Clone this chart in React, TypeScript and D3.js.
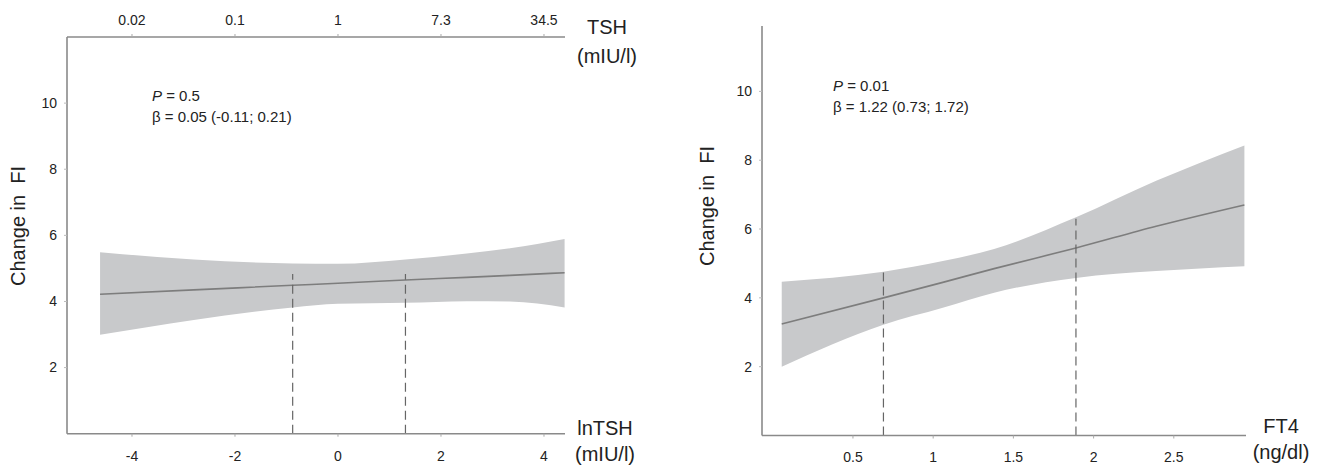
import React, { useEffect, useRef } from "react";
import * as d3 from "d3";

// left panel: lnTSH vs change in FI
const tshX = [-4.62, -2.8, -0.88, 0, 1.31, 2.5, 3.34, 4.4];
const tshFit = [4.22, 4.35, 4.49, 4.55, 4.65, 4.73, 4.79, 4.87];
const tshUpper = [5.49, 5.27, 5.15, 5.14, 5.27, 5.45, 5.61, 5.89];
const tshLower = [2.99, 3.44, 3.82, 3.93, 3.96, 4.01, 4.0, 3.82];
const tshRef = [-0.88, 1.31];
const tshRefTop = [4.83, 4.83];
const tshTicks = [-4, -2, 0, 2, 4];
const tshTopLabels = ["0.02", "0.1", "1", "7.3", "34.5"];

// right panel: FT4 vs change in FI
const ft4X = [0.056, 0.69, 1.06, 1.38, 1.89, 2.39, 2.94];
const ft4Fit = [3.24, 4.0, 4.45, 4.85, 5.45, 6.08, 6.7];
const ft4Upper = [4.47, 4.76, 5.07, 5.42, 6.34, 7.4, 8.43];
const ft4Lower = [2.0, 3.22, 3.71, 4.15, 4.58, 4.78, 4.92];
const ft4Ref = [0.69, 1.89];
const ft4RefTop = [4.76, 6.3];
const ft4Ticks = [0.5, 1, 1.5, 2, 2.5];

const fiTicks = [2, 4, 6, 8, 10];

const FONT = "'Liberation Sans', Arial, sans-serif";
const AXIS = "#8a8a8a";
const TEXT = "#222";

type Panel = {
  xs: number[];
  fit: number[];
  upper: number[];
  lower: number[];
  ref: number[];
  refTop: number[];
  xTicks: number[];
  xDomain: [number, number];
  xRange: [number, number];
  yDomain: [number, number];
  yRange: [number, number];
  topLabels?: string[];
  pText: string;
  betaText: string;
  annX: number;
  annY: number;
  yLabelPos: [number, number];
  xLabel: string[];
  xLabelPos: [number, number];
  topLabel?: string[];
  topLabelPos?: [number, number];
};

function drawPanel(svg: any, p: Panel) {
  const x = d3.scaleLinear().domain(p.xDomain).range(p.xRange);
  const y = d3.scaleLinear().domain(p.yDomain).range(p.yRange);
  const g = svg.append("g");
  const pts = p.xs.map((v, i) => ({ x: v, fit: p.fit[i], lo: p.lower[i], hi: p.upper[i] }));

  // confidence band
  const band = d3
    .area<any>()
    .x((d) => x(d.x))
    .y0((d) => y(d.lo))
    .y1((d) => y(d.hi))
    .curve(d3.curveMonotoneX);
  g.append("path").attr("d", band(pts)).attr("fill", "#c8c9cb");

  // fitted line
  const line = d3
    .line<any>()
    .x((d) => x(d.x))
    .y((d) => y(d.fit))
    .curve(d3.curveMonotoneX);
  g.append("path")
    .attr("d", line(pts))
    .attr("fill", "none")
    .attr("stroke", "#7d7d7d")
    .attr("stroke-width", 1.6);

  // dashed reference lines
  p.ref.forEach((r, i) => {
    g.append("line")
      .attr("x1", x(r))
      .attr("x2", x(r))
      .attr("y1", y(0))
      .attr("y2", y(p.refTop[i]))
      .attr("stroke", "#666")
      .attr("stroke-width", 1.2)
      .attr("stroke-dasharray", "9,5");
  });

  // axes
  const [y0, y1] = p.yRange;
  const [x0, x1] = p.xRange;
  g.append("line")
    .attr("x1", x0).attr("x2", x0).attr("y1", y0).attr("y2", y1)
    .attr("stroke", AXIS).attr("stroke-width", 1.6);
  g.append("line")
    .attr("x1", x0).attr("x2", x1).attr("y1", y0).attr("y2", y0)
    .attr("stroke", AXIS).attr("stroke-width", 1.6);

  fiTicks.forEach((t) => {
    g.append("line")
      .attr("x1", x0 - 3).attr("x2", x0).attr("y1", y(t)).attr("y2", y(t))
      .attr("stroke", "#bbb").attr("stroke-width", 1);
    g.append("text")
      .attr("x", x0 - 10)
      .attr("y", y(t))
      .attr("dy", "0.35em")
      .attr("text-anchor", "end")
      .attr("font-size", 14)
      .attr("fill", TEXT)
      .text(t);
  });

  p.xTicks.forEach((t) => {
    g.append("line")
      .attr("x1", x(t)).attr("x2", x(t)).attr("y1", y0).attr("y2", y0 + 3)
      .attr("stroke", "#aaa").attr("stroke-width", 1);
    g.append("text")
      .attr("x", x(t))
      .attr("y", y0 + 22)
      .attr("dy", "0.35em")
      .attr("text-anchor", "middle")
      .attr("font-size", 14)
      .attr("fill", TEXT)
      .text(t);
  });

  if (p.topLabels) {
    g.append("line")
      .attr("x1", x0).attr("x2", x1).attr("y1", y1).attr("y2", y1)
      .attr("stroke", AXIS).attr("stroke-width", 1.6);
    p.xTicks.forEach((t, i) => {
      g.append("line")
        .attr("x1", x(t)).attr("x2", x(t)).attr("y1", y1).attr("y2", y1 - 3)
        .attr("stroke", "#aaa").attr("stroke-width", 1);
      g.append("text")
        .attr("x", x(t))
        .attr("y", y1 - 17)
        .attr("dy", "0.35em")
        .attr("text-anchor", "middle")
        .attr("font-size", 14)
        .attr("fill", TEXT)
        .text(p.topLabels![i]);
    });
  }

  // y axis title
  g.append("text")
    .attr("transform", `translate(${p.yLabelPos[0]},${p.yLabelPos[1]}) rotate(-90)`)
    .attr("text-anchor", "middle")
    .attr("dy", "0.35em")
    .attr("font-size", 20)
    .attr("fill", TEXT)
    .style("white-space", "pre")
    .text("Change in  FI");

  // x axis titles
  p.xLabel.forEach((s, i) => {
    g.append("text")
      .attr("x", p.xLabelPos[0])
      .attr("y", p.xLabelPos[1] + i * 26)
      .attr("dy", "0.35em")
      .attr("text-anchor", "middle")
      .attr("font-size", 20)
      .attr("fill", TEXT)
      .text(s);
  });
  if (p.topLabel && p.topLabelPos) {
    p.topLabel.forEach((s, i) => {
      g.append("text")
        .attr("x", p.topLabelPos![0])
        .attr("y", p.topLabelPos![1] + i * 29)
        .attr("dy", "0.35em")
        .attr("text-anchor", "middle")
        .attr("font-size", 20)
        .attr("fill", TEXT)
        .text(s);
    });
  }

  // annotation
  const pt = g.append("text")
    .attr("x", p.annX)
    .attr("y", p.annY)
    .attr("dy", "0.35em")
    .attr("font-size", 15)
    .attr("fill", TEXT);
  pt.append("tspan").attr("font-style", "italic").text("P");
  pt.append("tspan").text(` = ${p.pText}`);
  g.append("text")
    .attr("x", p.annX)
    .attr("y", p.annY + 21)
    .attr("dy", "0.35em")
    .attr("font-size", 15)
    .attr("fill", TEXT)
    .text(`β = ${p.betaText}`);
}

export default function App() {
  const ref = useRef<SVGSVGElement>(null);

  useEffect(() => {
    const svg = d3.select(ref.current);
    svg.selectAll("*").remove();
    svg.attr("font-family", FONT);

    drawPanel(svg, {
      xs: tshX,
      fit: tshFit,
      upper: tshUpper,
      lower: tshLower,
      ref: tshRef,
      refTop: tshRefTop,
      xTicks: tshTicks,
      xDomain: [-5.262, 4.408],
      xRange: [67, 565],
      yDomain: [0, 12],
      yRange: [433.7, 37],
      topLabels: tshTopLabels,
      pText: "0.5",
      betaText: "0.05 (-0.11; 0.21)",
      annX: 152,
      annY: 96,
      yLabelPos: [18, 226],
      xLabel: ["lnTSH", "(mIU/l)"],
      xLabelPos: [605, 428],
      topLabel: ["TSH", "(mIU/l)"],
      topLabelPos: [607, 27],
    });

    drawPanel(svg, {
      xs: ft4X,
      fit: ft4Fit,
      upper: ft4Upper,
      lower: ft4Lower,
      ref: ft4Ref,
      refTop: ft4RefTop,
      xTicks: ft4Ticks,
      xDomain: [-0.067, 2.95],
      xRange: [762, 1246],
      yDomain: [0, 11.9],
      yRange: [435.5, 26],
      pText: "0.01",
      betaText: "1.22 (0.73; 1.72)",
      annX: 833,
      annY: 86,
      yLabelPos: [707, 206],
      xLabel: ["FT4", "(ng/dl)"],
      xLabelPos: [1281, 426],
    });
  }, []);

  return (
    <svg
      ref={ref}
      width={1328}
      height={466}
      style={{ position: "absolute", left: 0, top: 0, background: "#fff" }}
    />
  );
}
